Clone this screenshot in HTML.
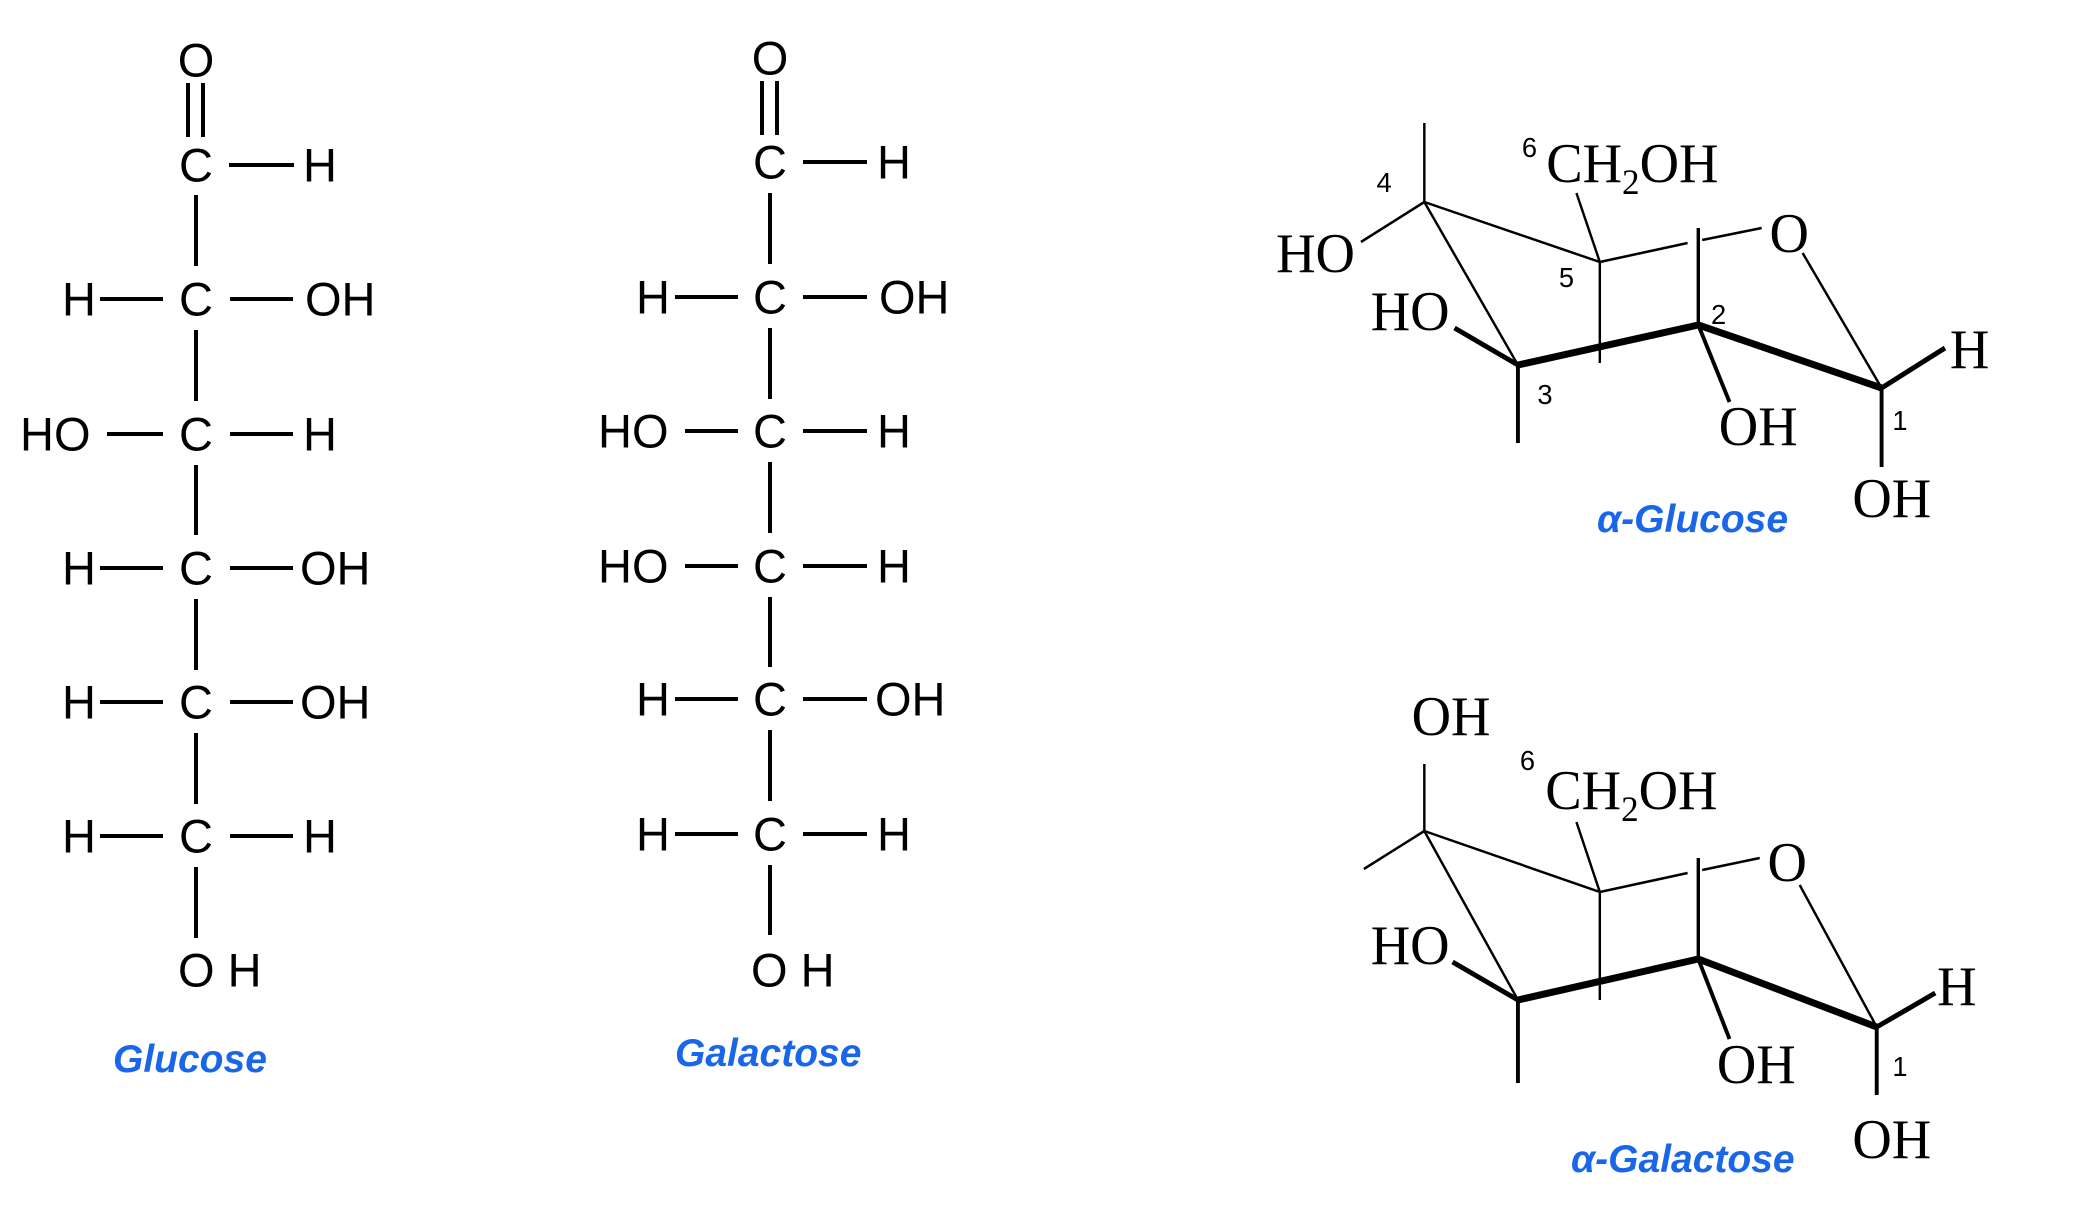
<!DOCTYPE html>
<html><head><meta charset="utf-8"><style>
html,body{margin:0;padding:0;background:#fff;}
svg{display:block}
.s{font-family:"Liberation Sans",sans-serif;font-size:47px;fill:#000;dominant-baseline:central;}
.r{font-family:"Liberation Serif",serif;font-size:56px;fill:#000;}
.n{font-family:"Liberation Sans",sans-serif;font-size:28px;fill:#000;}
.lb{font-family:"Liberation Sans",sans-serif;font-size:39px;font-weight:bold;font-style:italic;fill:#1a66e8;}
</style></head><body>
<svg width="2088" height="1224" viewBox="0 0 2088 1224" xmlns="http://www.w3.org/2000/svg">
<g stroke="#000" stroke-width="4" fill="none">
<line x1="188" y1="83" x2="188" y2="137"/><line x1="203" y1="83" x2="203" y2="137"/>
<line x1="196" y1="195" x2="196" y2="266"/><line x1="196" y1="330" x2="196" y2="401"/>
<line x1="196" y1="465" x2="196" y2="535"/><line x1="196" y1="599" x2="196" y2="670"/>
<line x1="196" y1="733" x2="196" y2="804"/><line x1="196" y1="867" x2="196" y2="938"/>
<line x1="229" y1="165" x2="294" y2="165"/>
<line x1="100" y1="299" x2="163" y2="299"/><line x1="230" y1="299" x2="293" y2="299"/>
<line x1="107" y1="434" x2="163" y2="434"/><line x1="230" y1="434" x2="293" y2="434"/>
<line x1="100" y1="568" x2="163" y2="568"/><line x1="230" y1="568" x2="293" y2="568"/>
<line x1="100" y1="702" x2="163" y2="702"/><line x1="230" y1="702" x2="293" y2="702"/>
<line x1="100" y1="836" x2="163" y2="836"/><line x1="230" y1="836" x2="293" y2="836"/>
<line x1="762" y1="81" x2="762" y2="135"/><line x1="777" y1="81" x2="777" y2="135"/>
<line x1="770" y1="193" x2="770" y2="264"/><line x1="770" y1="328" x2="770" y2="399"/>
<line x1="770" y1="462" x2="770" y2="533"/><line x1="770" y1="597" x2="770" y2="667"/>
<line x1="770" y1="730" x2="770" y2="801"/><line x1="770" y1="865" x2="770" y2="935"/>
<line x1="803" y1="162" x2="867" y2="162"/>
<line x1="675" y1="297" x2="738" y2="297"/><line x1="803" y1="297" x2="867" y2="297"/>
<line x1="685" y1="431" x2="738" y2="431"/><line x1="803" y1="431" x2="867" y2="431"/>
<line x1="685" y1="566" x2="738" y2="566"/><line x1="803" y1="566" x2="867" y2="566"/>
<line x1="675" y1="699" x2="738" y2="699"/><line x1="803" y1="699" x2="867" y2="699"/>
<line x1="675" y1="834" x2="738" y2="834"/><line x1="803" y1="834" x2="867" y2="834"/>
</g>
<g class="s">
<text x="196" y="60" text-anchor="middle">O</text>
<text x="196" y="165" text-anchor="middle">C</text><text x="303" y="165">H</text>
<text x="62" y="299">H</text><text x="196" y="299" text-anchor="middle">C</text><text x="305" y="299">OH</text>
<text x="20" y="434">HO</text><text x="196" y="434" text-anchor="middle">C</text><text x="303" y="434">H</text>
<text x="62" y="568">H</text><text x="196" y="568" text-anchor="middle">C</text><text x="300" y="568">OH</text>
<text x="62" y="702">H</text><text x="196" y="702" text-anchor="middle">C</text><text x="300" y="702">OH</text>
<text x="62" y="836">H</text><text x="196" y="836" text-anchor="middle">C</text><text x="303" y="836">H</text>
<text x="178" y="970">O H</text>
<text x="770" y="58" text-anchor="middle">O</text>
<text x="770" y="162" text-anchor="middle">C</text><text x="877" y="162">H</text>
<text x="636" y="297">H</text><text x="770" y="297" text-anchor="middle">C</text><text x="879" y="297">OH</text>
<text x="598" y="431">HO</text><text x="770" y="431" text-anchor="middle">C</text><text x="877" y="431">H</text>
<text x="598" y="566">HO</text><text x="770" y="566" text-anchor="middle">C</text><text x="877" y="566">H</text>
<text x="636" y="699">H</text><text x="770" y="699" text-anchor="middle">C</text><text x="875" y="699">OH</text>
<text x="636" y="834">H</text><text x="770" y="834" text-anchor="middle">C</text><text x="877" y="834">H</text>
<text x="751" y="970">O H</text>
</g>
<text class="lb" x="113" y="1072">Glucose</text>
<text class="lb" x="675" y="1066">Galactose</text>

<g transform="matrix(0.975,0,0,1,33,0)">
<g stroke="#000" fill="none">
<g stroke-width="2.5">
<line x1="1427" y1="123" x2="1427" y2="202"/>
<line x1="1427" y1="202" x2="1362" y2="242"/>
<line x1="1427" y1="202" x2="1607" y2="262"/>
<line x1="1427" y1="202" x2="1523" y2="365"/>
<line x1="1607" y1="262" x2="1583" y2="193"/>
<line x1="1607" y1="262" x2="1607" y2="363"/>
<line x1="1607" y1="262" x2="1697" y2="243"/>
<line x1="1712" y1="240" x2="1773" y2="228"/>
<line x1="1815" y1="253" x2="1896" y2="388"/>
</g>
<line x1="1708" y1="228" x2="1708" y2="325" stroke-width="3.5"/>
<line x1="1523" y1="365" x2="1708" y2="325" stroke-width="7"/>
<line x1="1708" y1="325" x2="1896" y2="388" stroke-width="7"/>
<line x1="1523" y1="365" x2="1458" y2="328" stroke-width="5"/>
<line x1="1523" y1="365" x2="1523" y2="443" stroke-width="4"/>
<line x1="1708" y1="325" x2="1740" y2="402" stroke-width="4"/>
<line x1="1896" y1="388" x2="1961" y2="348" stroke-width="5"/>
<line x1="1896" y1="388" x2="1896" y2="467" stroke-width="4"/>
</g>
<g class="r">
<text x="1275" y="272">HO</text>
<text x="1552" y="182">CH<tspan font-size="36" dy="12">2</tspan><tspan dy="-12">OH</tspan></text>
<text x="1781" y="252">O</text>
<text x="1372" y="330">HO</text>
<text x="1729" y="445">OH</text>
<text x="1966" y="368">H</text>
<text x="1866" y="517">OH</text>
</g>
<g class="n">
<text x="1378" y="192">4</text>
<text x="1527" y="157">6</text>
<text x="1565" y="287">5</text>
<text x="1721" y="324">2</text>
<text x="1543" y="404">3</text>
<text x="1907" y="430">1</text>
</g>
</g>
<text class="lb" x="1597" y="532">α-Glucose</text>

<g transform="matrix(0.975,0,0,1,33,0)">
<g stroke="#000" fill="none">
<g stroke-width="2.5">
<line x1="1427" y1="764" x2="1427" y2="831"/>
<line x1="1427" y1="831" x2="1365" y2="869"/>
<line x1="1427" y1="831" x2="1607" y2="892"/>
<line x1="1427" y1="831" x2="1523" y2="1000"/>
<line x1="1607" y1="892" x2="1583" y2="822"/>
<line x1="1607" y1="892" x2="1607" y2="1000"/>
<line x1="1607" y1="892" x2="1697" y2="873"/>
<line x1="1712" y1="870" x2="1771" y2="858"/>
<line x1="1812" y1="885" x2="1891" y2="1027"/>
</g>
<line x1="1708" y1="858" x2="1708" y2="959" stroke-width="3.5"/>
<line x1="1523" y1="1000" x2="1708" y2="959" stroke-width="7"/>
<line x1="1708" y1="959" x2="1891" y2="1027" stroke-width="7"/>
<line x1="1523" y1="1000" x2="1456" y2="962" stroke-width="5"/>
<line x1="1523" y1="1000" x2="1523" y2="1083" stroke-width="4"/>
<line x1="1708" y1="959" x2="1740" y2="1039" stroke-width="4"/>
<line x1="1891" y1="1027" x2="1951" y2="993" stroke-width="5"/>
<line x1="1891" y1="1027" x2="1891" y2="1095" stroke-width="4"/>
</g>
<g class="r">
<text x="1414" y="735">OH</text>
<text x="1551" y="809">CH<tspan font-size="36" dy="12">2</tspan><tspan dy="-12">OH</tspan></text>
<text x="1779" y="881">O</text>
<text x="1372" y="964">HO</text>
<text x="1727" y="1083">OH</text>
<text x="1953" y="1005">H</text>
<text x="1866" y="1158">OH</text>
</g>
<g class="n">
<text x="1525" y="770">6</text>
<text x="1907" y="1076">1</text>
</g>
</g>
<text class="lb" x="1571" y="1172">α-Galactose</text>
</svg>
</body></html>
